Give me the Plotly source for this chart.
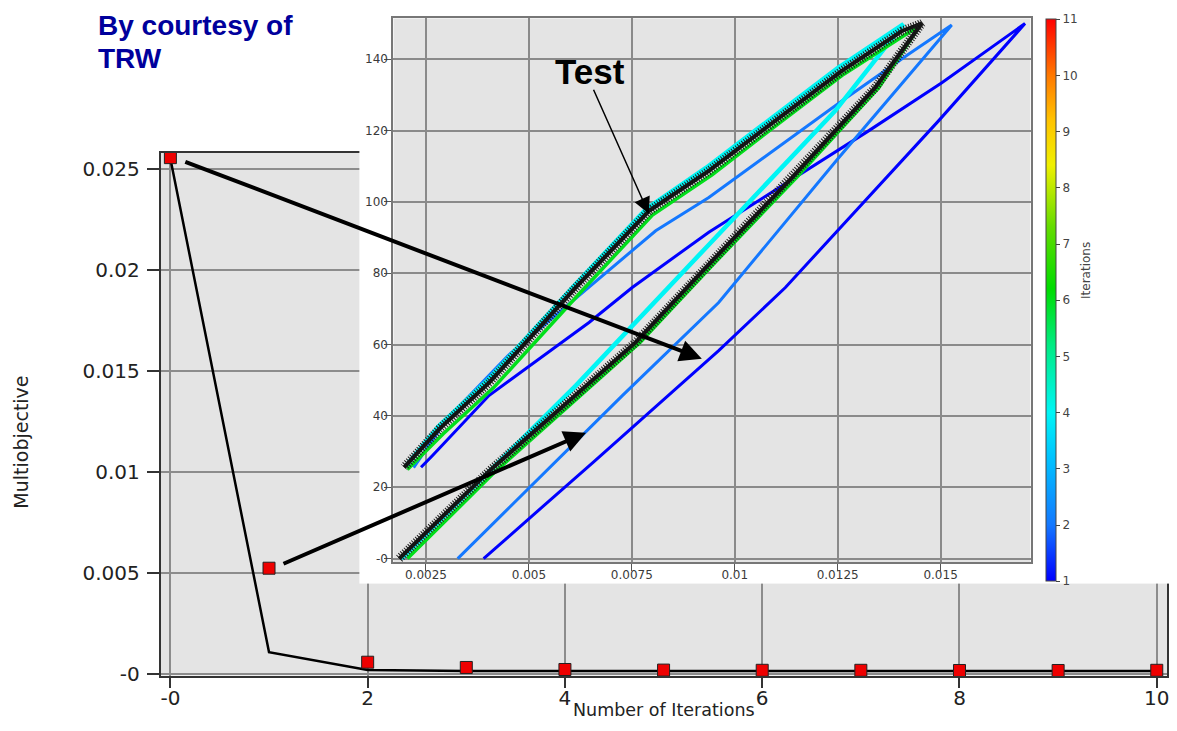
import plotly.graph_objects as go
from plotly.colors import sample_colorscale

W, H = 1177, 731
VS, VOFF = 0.987, -1.0   # vertical calibration of the rendered page

# ---------------- main chart data ----------------
iterations = [0, 1, 2, 3, 4, 5, 6, 7, 8, 9, 10]
objective_line = [0.02552, 0.00106, 0.00018, 0.00013, 0.00012, 0.00012, 0.00012, 0.00012, 0.00012, 0.00012, 0.00012]
objective_markers = [0.02557, 0.00522, 0.00056, 0.00030, 0.00020, 0.00017, 0.00016, 0.00016, 0.00015, 0.00015, 0.00016]

main_x_tickvals = [0, 2, 4, 6, 8, 10]
main_x_ticktext = ["-0", "2", "4", "6", "8", "10"]
main_y_tickvals = [0, 0.005, 0.01, 0.015, 0.02, 0.025]
main_y_ticktext = ["-0", "0.005", "0.01", "0.015", "0.02", "0.025"]

# ---------------- inset data (force vs displacement loops) ----------------
test_load_x = [0.00185, 0.00404, 0.00759, 0.00937, 0.01139, 0.01341, 0.01454]
test_load_y = [0.0, 24.6, 60.6, 82.5, 106.8, 132.0, 150.0]
test_unload_x = [0.01454, 0.01406, 0.01260, 0.01099, 0.00937, 0.00792, 0.00614, 0.00404, 0.00282, 0.00197]
test_unload_y = [150.0, 147.9, 136.7, 122.7, 108.7, 97.5, 76.0, 49.4, 36.3, 25.6]

it1_load_x = [0.00390, 0.00656, 0.00961, 0.01123, 0.01495, 0.01705]
it1_load_y = [0.0, 27.0, 58.3, 76.0, 122.7, 150.0]
it1_unload_x = [0.01705, 0.01503, 0.01325, 0.00937, 0.00751, 0.00646, 0.00403, 0.00266, 0.00238]
it1_unload_y = [150.0, 133.4, 119.9, 91.5, 76.0, 66.2, 45.7, 28.9, 25.6]

it2_load_x = [0.00327, 0.00727, 0.00961, 0.01250, 0.01527]
it2_load_y = [0.0, 45.7, 71.8, 112.0, 149.6]
it2_unload_x = [0.01527, 0.01422, 0.01260, 0.00937, 0.00808, 0.00646, 0.00450, 0.00300, 0.00220]
it2_unload_y = [149.6, 141.4, 128.3, 101.2, 91.9, 76.0, 57.0, 39.0, 25.5]

it4_load_x = [0.00190, 0.00614, 0.00937, 0.01244, 0.01410]
it4_load_y = [0.0, 48.5, 88.0, 125.5, 149.8]
it4_unload_x = [0.01410, 0.01250, 0.01090, 0.00930, 0.00785, 0.00610, 0.00400, 0.00280, 0.00200]
it4_unload_y = [149.8, 137.5, 123.5, 109.5, 98.0, 76.5, 50.0, 37.0, 25.8]

it6_load_x = [0.00205, 0.00420, 0.00770, 0.00948, 0.01150, 0.01350, 0.01450]
it6_load_y = [0.0, 24.6, 60.6, 82.5, 106.8, 132.0, 149.5]
it6_unload_x = [0.01450, 0.01265, 0.01105, 0.00945, 0.00800, 0.00625, 0.00415, 0.00292, 0.00205]
it6_unload_y = [149.5, 135.8, 121.8, 107.6, 96.3, 74.6, 48.0, 35.0, 25.0]

inset_x_tickvals = [0.0025, 0.005, 0.0075, 0.01, 0.0125, 0.015]
inset_x_ticktext = ["0.0025", "0.005", "0.0075", "0.01", "0.0125", "0.015"]
inset_y_tickvals = [0, 20, 40, 60, 80, 100, 120, 140]
inset_y_ticktext = ["-0", "20", "40", "60", "80", "100", "120", "140"]
cbar_ticks = [1, 2, 3, 4, 5, 6, 7, 8, 9, 10, 11]

# ---------------- styles ----------------
cscale = [[0.0, 'rgb(0,0,255)'], [0.1, 'rgb(20,120,255)'], [0.22, 'rgb(0,195,255)'],
          [0.3, 'rgb(0,245,245)'], [0.42, 'rgb(0,235,130)'], [0.52, 'rgb(0,220,0)'],
          [0.63, 'rgb(100,220,0)'], [0.74, 'rgb(240,240,0)'], [0.82, 'rgb(255,195,0)'],
          [0.9, 'rgb(255,120,0)'], [1.0, 'rgb(255,0,0)']]
loop_widths = {1: 3, 2: 3, 4: 4.5, 6: 3.5}


def px_x(p):
    return p / W


def px_y(r):
    # r = target pixel row in the final picture
    return 1 - ((r - VOFF) / VS) / H


def dy(d):
    return d / VS


def it_color(it):
    return sample_colorscale(cscale, [(it - 1) / 10])[0]


fig = go.Figure()

# main chart
fig.add_trace(go.Scatter(x=iterations, y=objective_line, mode='lines',
                         line=dict(color='black', width=2.5), xaxis='x', yaxis='y',
                         showlegend=False, hoverinfo='skip', cliponaxis=False))
fig.add_trace(go.Scatter(x=iterations, y=objective_markers, mode='markers',
                         marker=dict(symbol='square', size=12, color='#ee0000',
                                     line=dict(color='#222', width=1)),
                         xaxis='x', yaxis='y', showlegend=False, hoverinfo='skip',
                         cliponaxis=False))

# white box subplot (x2/y2) covering part of the main chart
fig.add_trace(go.Scatter(x=[None], y=[None], xaxis='x2', yaxis='y2',
                         showlegend=False, hoverinfo='skip'))

# inset loops
loops = [
    (1, it1_load_x + it1_unload_x, it1_load_y + it1_unload_y),
    (2, it2_load_x + it2_unload_x, it2_load_y + it2_unload_y),
    (4, it4_load_x + it4_unload_x, it4_load_y + it4_unload_y),
    (6, it6_load_x + it6_unload_x, it6_load_y + it6_unload_y),
]
for it, xs, ys in loops:
    fig.add_trace(go.Scatter(x=xs, y=ys, mode='lines',
                             line=dict(color=it_color(it), width=loop_widths[it]),
                             xaxis='x3', yaxis='y3', showlegend=False, hoverinfo='skip'))

test_x = test_load_x + test_unload_x
test_y = test_load_y + test_unload_y
fig.add_trace(go.Scatter(x=test_x, y=test_y, mode='lines',
                         line=dict(color='#111', width=4),
                         xaxis='x3', yaxis='y3', showlegend=False, hoverinfo='skip'))
fig.add_trace(go.Scatter(x=test_x, y=test_y, mode='lines',
                         line=dict(color='#1a1a1a', width=9, dash='1px,1.6px'),
                         xaxis='x3', yaxis='y3', showlegend=False, hoverinfo='skip'))

# colorbar carrier
fig.add_trace(go.Scatter(x=[None], y=[None], mode='markers', xaxis='x3', yaxis='y3',
                         marker=dict(color=[1], colorscale=cscale, cmin=1, cmax=11,
                                     showscale=True,
                                     colorbar=dict(x=px_x(1048), xanchor='left',
                                                   y=px_y((22 + 577) / 2), yanchor='middle',
                                                   len=dy(555), lenmode='pixels',
                                                   thickness=10, thicknessmode='pixels',
                                                   xpad=0, ypad=0, outlinewidth=1,
                                                   outlinecolor='#444',
                                                   tickvals=cbar_ticks, ticks='outside',
                                                   ticklen=4, tickcolor='#444',
                                                   tickfont=dict(family='DejaVu Sans', size=12, color='#444'))),
                         showlegend=False, hoverinfo='skip'))

main_ax = dict(showgrid=True, gridcolor='#8c8c8c', gridwidth=1.5, zeroline=False,
               showline=True, linecolor='#333', linewidth=2, mirror=True,
               ticks='outside', tickcolor='#333', tickwidth=1.5,
               tickfont=dict(family='DejaVu Sans', size=20, color='#222'))
inset_ax = dict(showgrid=True, gridcolor='#8a8a8a', gridwidth=1.5, zeroline=False,
                showline=True, linecolor='#777', linewidth=2, mirror=True,
                ticks='outside', tickcolor='#555', tickwidth=1, ticklen=7,
                tickfont=dict(family='DejaVu Sans', size=12, color='#3a3a3a'))

inset_xr = [0.001707, 0.017185]
inset_yr = [-1.04, 151.46]

fig.update_layout(
    width=W, height=H, autosize=False,
    margin=dict(l=0, r=0, t=0, b=0),
    paper_bgcolor='white', plot_bgcolor='white',
    xaxis=dict(domain=[px_x(161), px_x(1169.3)], range=[-0.098, 10.107], anchor='y',
               tickvals=main_x_tickvals, ticktext=main_x_ticktext, ticklen=10,
               ticklabelstandoff=-7, **main_ax),
    yaxis=dict(domain=[px_y(675), px_y(151.7)], range=[-0.0001, 0.02582], anchor='x',
               tickvals=main_y_tickvals, ticktext=main_y_ticktext, ticklen=12,
               ticklabelstandoff=3, **main_ax),
    xaxis2=dict(domain=[px_x(360), 1.0], range=[0, 1], anchor='y2', visible=False),
    yaxis2=dict(domain=[px_y(583), 1.0], range=[0, 1], anchor='x2', visible=False),
    xaxis3=dict(domain=[px_x(394), px_x(1032.3)], range=inset_xr, anchor='y3',
                tickvals=inset_x_tickvals, ticktext=inset_x_ticktext,
                ticklabelstandoff=-7, **inset_ax),
    yaxis3=dict(domain=[px_y(561.7), px_y(17.3)], range=inset_yr, anchor='x3',
                tickvals=inset_y_tickvals, ticktext=inset_y_ticktext,
                ticklabelstandoff=-6, **inset_ax),
    shapes=[
        dict(type='rect', xref='paper', yref='paper', x0=px_x(161), x1=px_x(1169.3),
             y0=px_y(675), y1=px_y(151.7), fillcolor='#e4e4e4', line=dict(width=0),
             layer='below'),
        dict(type='rect', xref='x3', yref='y3', x0=inset_xr[0], x1=inset_xr[1],
             y0=inset_yr[0], y1=inset_yr[1], fillcolor='#e4e4e4', line=dict(width=0),
             layer='below'),
    ],
)

annotations = [
    dict(text='<b>By courtesy of</b>', x=px_x(96), y=px_y(25), xanchor='left',
         yanchor='middle', align='left', showarrow=False,
         font=dict(family='Liberation Sans', size=28, color='#00009c')),
    dict(text='<b>TRW</b>', x=px_x(96), y=px_y(58), xanchor='left',
         yanchor='middle', align='left', showarrow=False,
         font=dict(family='Liberation Sans', size=28, color='#00009c')),
    dict(text='<b>Test</b>', x=px_x(591), y=px_y(71), xanchor='center', yanchor='middle',
         showarrow=False, font=dict(family='Liberation Sans', size=35, color='black')),
    dict(text='', x=px_x(650), y=px_y(213), ax=-56, ay=dy(-124), axref='pixel', ayref='pixel',
         showarrow=True, arrowhead=2, arrowsize=2.2, arrowwidth=1.5, arrowcolor='black'),
    dict(text='', x=px_x(703), y=px_y(358), ax=185 - 703, ay=dy(163 - 358), axref='pixel',
         ayref='pixel', showarrow=True, arrowhead=2, arrowsize=1.1, arrowwidth=4,
         arrowcolor='black'),
    dict(text='', x=px_x(587), y=px_y(432), ax=283 - 587, ay=dy(562 - 432), axref='pixel',
         ayref='pixel', showarrow=True, arrowhead=2, arrowsize=1.1, arrowwidth=4,
         arrowcolor='black'),
    dict(text='Number of Iterations', x=px_x(665), y=0, xanchor='center',
         yanchor='bottom', showarrow=False, borderpad=0,
         font=dict(family='DejaVu Sans', size=17.5, color='#222')),
    dict(text='Multiobjective', x=px_x(21), y=px_y(441), xanchor='center', yanchor='middle',
         textangle=-90, showarrow=False,
         font=dict(family='DejaVu Sans', size=19, color='#222')),
    dict(text='Iterations', x=px_x(1088), y=px_y(270), xanchor='center', yanchor='middle',
         textangle=-90, showarrow=False,
         font=dict(family='DejaVu Sans', size=12, color='#444')),
]
for a in annotations:
    a.setdefault('xref', 'paper')
    a.setdefault('yref', 'paper')
fig.update_layout(annotations=annotations)

fig.write_html("out.html")
